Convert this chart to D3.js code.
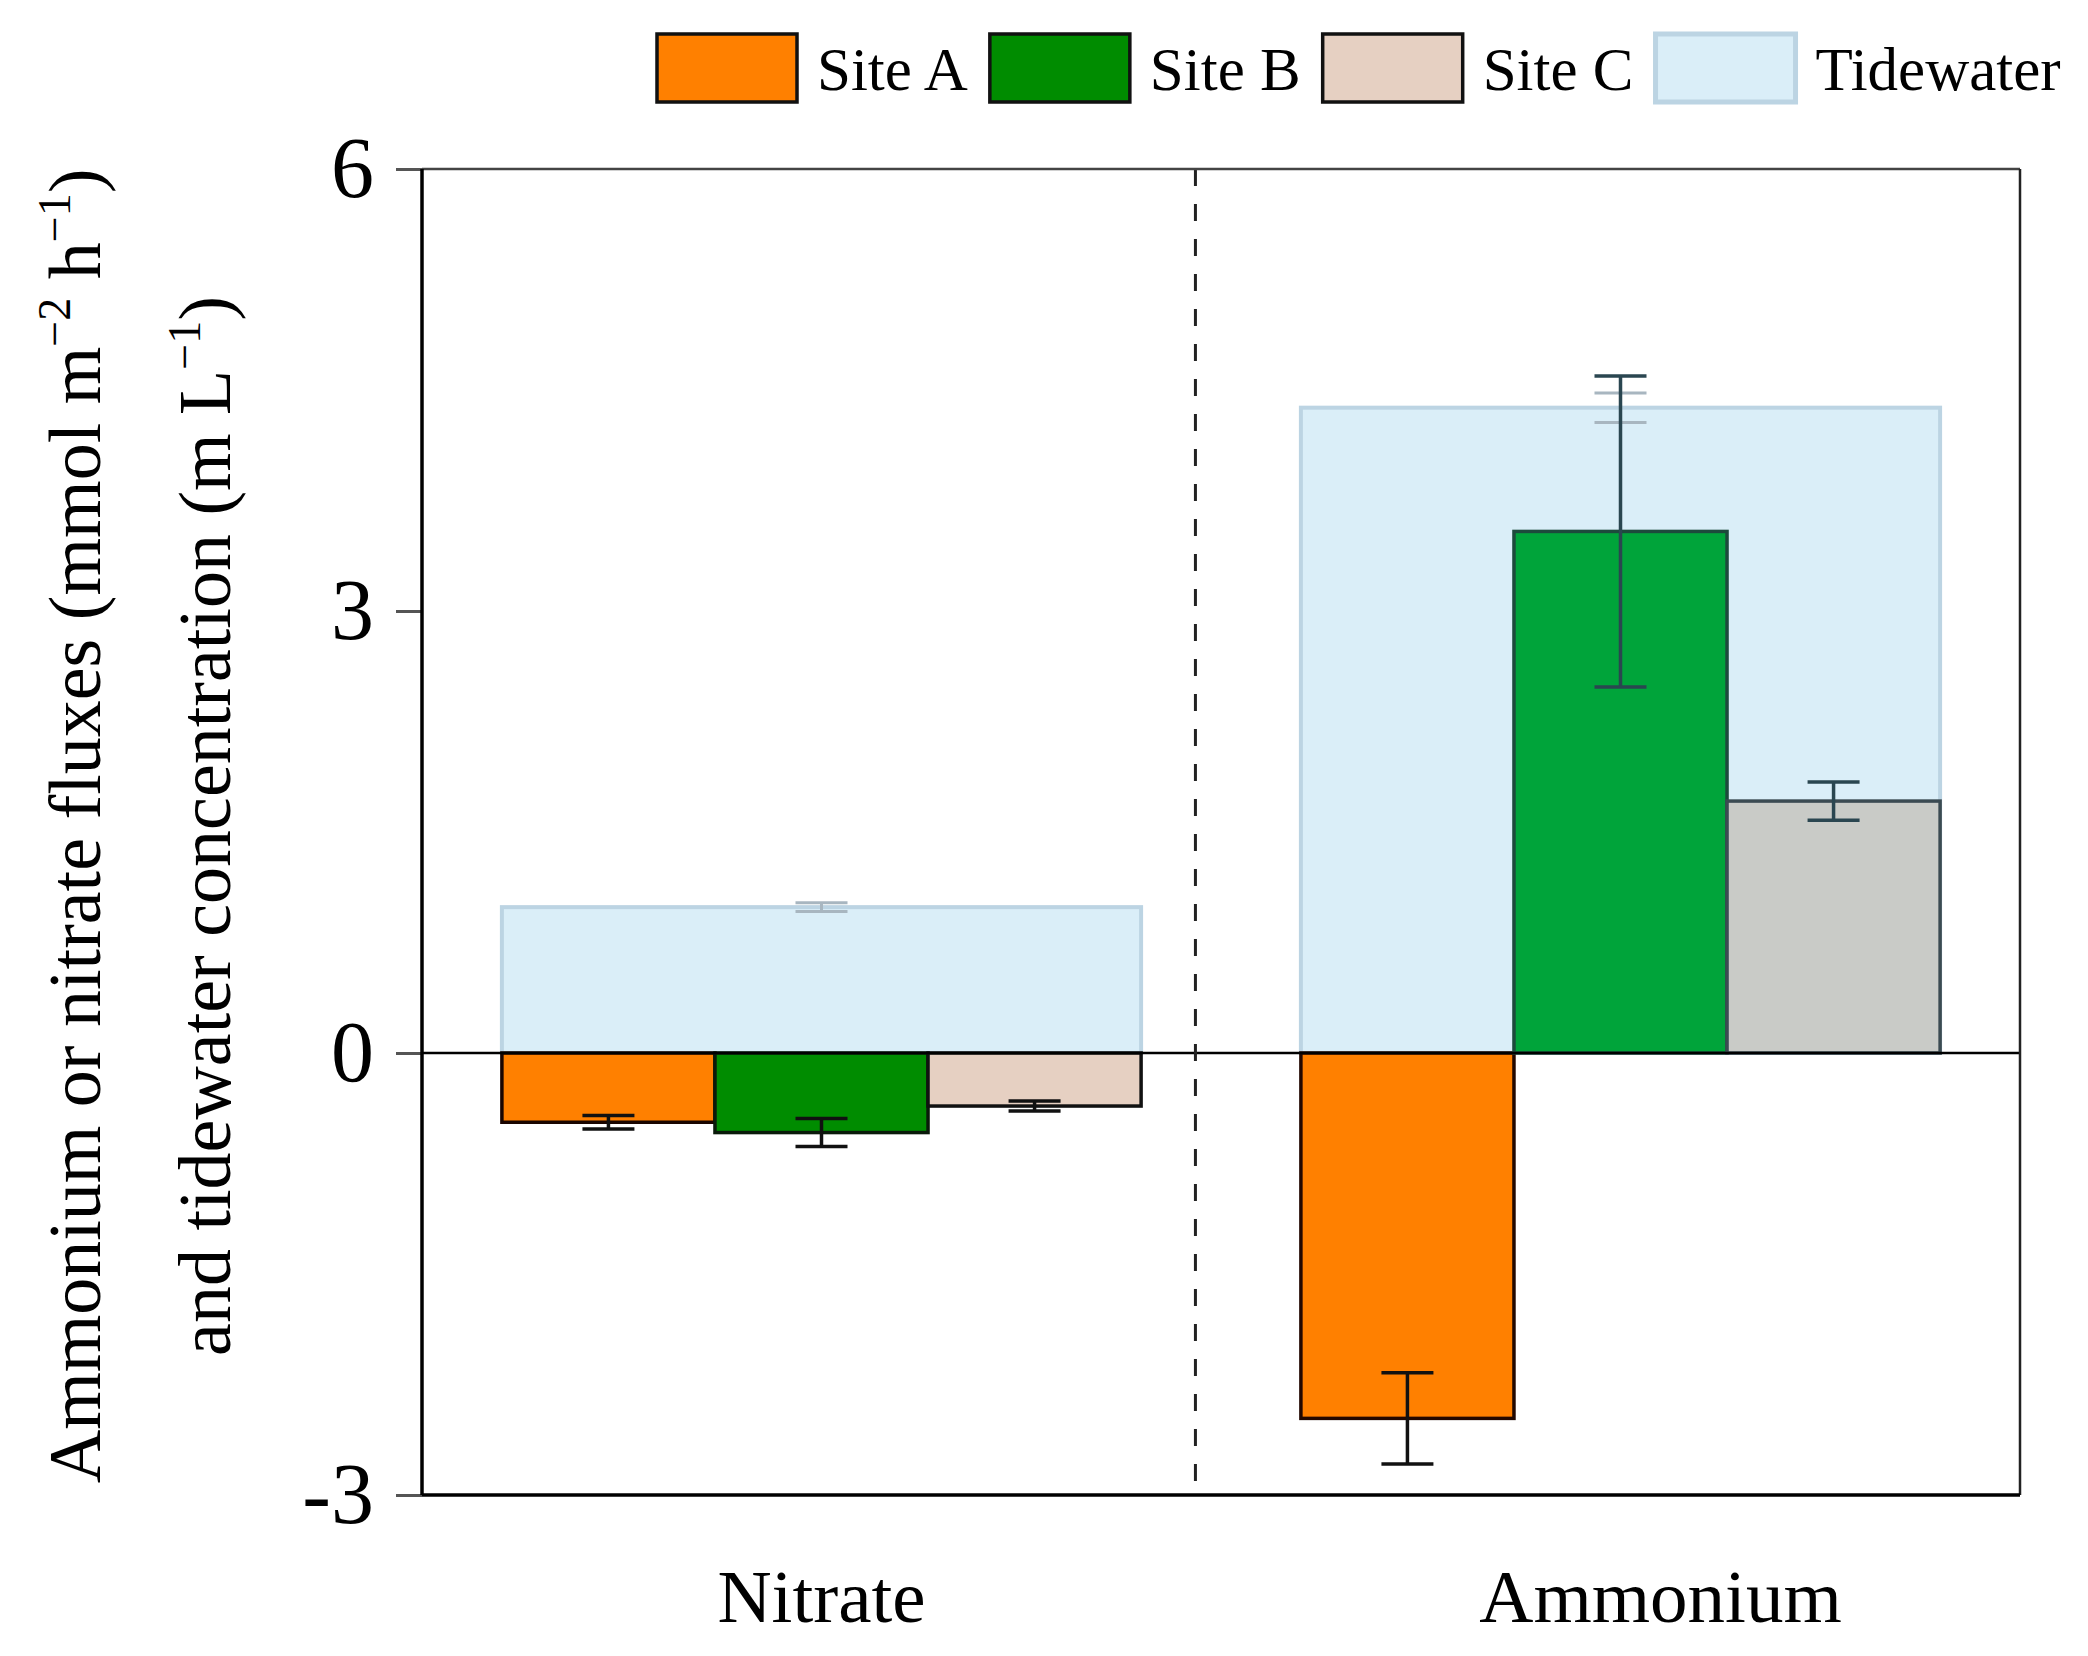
<!DOCTYPE html>
<html>
<head>
<meta charset="utf-8">
<script src="https://cdn.jsdelivr.net/npm/d3@7"></script>
<style>
  body { margin: 0; background: #fff; }
  svg { display: block; font-family: "Liberation Serif", "Times New Roman", serif; }
</style>
</head>
<body>
<div id="chart"></div>
<script>
// data
var groups = ["Nitrate", "Ammonium"];
var sites = ["Site A", "Site B", "Site C"];
var siteA = [-0.47, -2.48];
var siteAErr = [0.045, 0.31];
var siteB = [-0.54, 3.54];
var siteBErr = [0.095, 1.055];
var siteC = [-0.36, 1.71];
var siteCErr = [0.034, 0.13];
var tidewater = [0.99, 4.38];
var tidewaterErr = [0.03, 0.10];
var yTicks = [-3, 0, 3, 6];

var width = 2088;
var height = 1656;
var plotLeft = 422, plotRight = 2020, plotTop = 169, plotBottom = 1495;

var svg = d3.select("#chart")
    .append("svg")
    .attr("width", width)
    .attr("height", height);

var y = d3.scaleLinear().domain([-3, 6]).range([plotBottom, plotTop]);
var x = d3.scaleBand().domain(groups).range([plotLeft, plotRight])
    .paddingInner(0.2).paddingOuter(0.1);
var xSite = d3.scaleBand().domain(sites).range([0, x.bandwidth()]);

// legend colours, and the tinted look the ammonium bars have inside the tidewater box
var fill = {
    "Nitrate": { "Site A": "#ff8000", "Site B": "#008c00", "Site C": "#e6d0c2" },
    "Ammonium": { "Site A": "#ff8000", "Site B": "#00a43a", "Site C": "#c9cbc7" }
};
var edge = {
    "Nitrate": { "Site A": "#1a0500", "Site B": "#0a1a0a", "Site C": "#111" },
    "Ammonium": { "Site A": "#220800", "Site B": "#1d4a3c", "Site C": "#3b4b52" }
};
var whisker = {
    "Nitrate": { "Site A": "#111", "Site B": "#111", "Site C": "#111" },
    "Ammonium": { "Site A": "#111", "Site B": "#2a4650", "Site C": "#2a4650" }
};
var legendColor = ["#ff8000", "#008c00", "#e6d0c2", "#daeef8"];

var rows = [];
groups.forEach(function (g, i) {
    rows.push({ group: g, site: "Site A", value: siteA[i], err: siteAErr[i] });
    rows.push({ group: g, site: "Site B", value: siteB[i], err: siteBErr[i] });
    rows.push({ group: g, site: "Site C", value: siteC[i], err: siteCErr[i] });
});
var tide = groups.map(function (g, i) {
    return { group: g, value: tidewater[i], err: tidewaterErr[i] };
});

// tidewater boxes sit behind the site bars
svg.selectAll(".tide")
    .data(tide)
    .enter().append("rect")
    .attr("class", "tide")
    .attr("x", function (d) { return x(d.group); })
    .attr("width", x.bandwidth())
    .attr("y", function (d) { return y(d.value); })
    .attr("height", function (d) { return y(0) - y(d.value); })
    .attr("fill", "#daeef8")
    .attr("stroke", "#bcd4e3")
    .attr("stroke-width", 4);

function errorBars(sel, cx, color, w) {
    var g = sel.append("g").attr("stroke", color).attr("stroke-width", w);
    g.append("line")
        .attr("x1", cx).attr("x2", cx)
        .attr("y1", function (d) { return y(d.value + d.err); })
        .attr("y2", function (d) { return y(d.value - d.err); });
    g.append("line")
        .attr("x1", function (d) { return cx(d) - 26; })
        .attr("x2", function (d) { return cx(d) + 26; })
        .attr("y1", function (d) { return y(d.value + d.err); })
        .attr("y2", function (d) { return y(d.value + d.err); });
    g.append("line")
        .attr("x1", function (d) { return cx(d) - 26; })
        .attr("x2", function (d) { return cx(d) + 26; })
        .attr("y1", function (d) { return y(d.value - d.err); })
        .attr("y2", function (d) { return y(d.value - d.err); });
}

var tideErr = svg.selectAll(".tide-err")
    .data(tide)
    .enter().append("g")
    .attr("class", "tide-err");
errorBars(tideErr, function (d) { return x(d.group) + x.bandwidth() / 2; }, "#a8b6c0", 3);

svg.selectAll(".bar")
    .data(rows)
    .enter().append("rect")
    .attr("class", "bar")
    .attr("x", function (d) { return x(d.group) + xSite(d.site); })
    .attr("width", xSite.bandwidth())
    .attr("y", function (d) { return y(Math.max(0, d.value)); })
    .attr("height", function (d) { return Math.abs(y(d.value) - y(0)); })
    .attr("fill", function (d) { return fill[d.group][d.site]; })
    .attr("stroke", function (d) { return edge[d.group][d.site]; })
    .attr("stroke-width", 3.5);

svg.selectAll(".site-err")
    .data(rows)
    .enter().append("g")
    .attr("class", "site-err")
    .each(function (d) {
        errorBars(d3.select(this), function (e) { return x(e.group) + xSite(e.site) + xSite.bandwidth() / 2; },
            whisker[d.group][d.site], 3.5);
    });

// zero line
svg.append("line")
    .attr("x1", plotLeft).attr("x2", plotRight)
    .attr("y1", y(0)).attr("y2", y(0))
    .attr("stroke", "#000").attr("stroke-width", 2.5);

// divider between the two groups
var divX = plotLeft + (plotRight - plotLeft) * 0.484;
svg.append("line")
    .attr("x1", divX).attr("x2", divX)
    .attr("y1", y(6)).attr("y2", y(-3) - 8)
    .attr("stroke", "#222").attr("stroke-width", 3)
    .attr("stroke-dasharray", "17,18");

// frame
svg.append("line").attr("x1", plotLeft).attr("x2", plotRight).attr("y1", y(6)).attr("y2", y(6))
    .attr("stroke", "#444").attr("stroke-width", 2.5);
svg.append("line").attr("x1", plotRight).attr("x2", plotRight).attr("y1", y(6)).attr("y2", y(-3))
    .attr("stroke", "#222").attr("stroke-width", 2.5);
svg.append("line").attr("x1", plotLeft).attr("x2", plotRight).attr("y1", y(-3)).attr("y2", y(-3))
    .attr("stroke", "#000").attr("stroke-width", 3.5);

// y axis
var yAxis = svg.append("g")
    .attr("transform", "translate(" + plotLeft + ",0)")
    .call(d3.axisLeft(y).tickValues(yTicks).tickSize(26).tickPadding(22));
yAxis.select(".domain").remove();
yAxis.selectAll(".tick line").attr("stroke", "#555").attr("stroke-width", 3);
yAxis.selectAll(".tick text")
    .attr("font-family", "Liberation Serif")
    .attr("font-size", 86)
    .attr("fill", "#000")
    .text(function (d) { return d < 0 ? "-" + Math.abs(d) : d; });
svg.append("line").attr("x1", plotLeft).attr("x2", plotLeft).attr("y1", y(6)).attr("y2", y(-3))
    .attr("stroke", "#000").attr("stroke-width", 3.5);

// x labels
var labelShift = [0, 40];
svg.selectAll(".xlab")
    .data(groups)
    .enter().append("text")
    .attr("class", "xlab")
    .attr("x", function (d, i) { return x(d) + x.bandwidth() / 2 + labelShift[i]; })
    .attr("y", 1622)
    .attr("text-anchor", "middle")
    .attr("font-size", 75)
    .text(function (d) { return d; });

// y title, two lines with superscripts
var title = svg.append("g").attr("transform", "translate(100,826) rotate(-90)");
var t1 = title.append("text").attr("text-anchor", "middle").attr("font-size", 74);
t1.append("tspan").text("Ammonium or nitrate fluxes (mmol m");
t1.append("tspan").attr("dy", -30).attr("font-size", 46).text("\u22122");
t1.append("tspan").attr("dy", 30).text(" h");
t1.append("tspan").attr("dy", -30).attr("font-size", 46).text("\u22121");
t1.append("tspan").attr("dy", 30).text(")");
var t2 = title.append("text").attr("text-anchor", "middle").attr("font-size", 74).attr("y", 130);
t2.append("tspan").text("and tidewater concentration (m L");
t2.append("tspan").attr("dy", -30).attr("font-size", 46).text("\u22121");
t2.append("tspan").attr("dy", 30).text(")");

// legend
var legendNames = sites.concat(["Tidewater"]);
var cursor = 657;
legendNames.forEach(function (name, i) {
    var isTide = name === "Tidewater";
    svg.append("rect")
        .attr("x", cursor).attr("y", 34)
        .attr("width", 140).attr("height", 68)
        .attr("fill", legendColor[i])
        .attr("stroke", isTide ? "#bcd4e3" : "#111")
        .attr("stroke-width", isTide ? 5 : 3.5);
    var txt = svg.append("text")
        .attr("x", cursor + 160).attr("y", 90)
        .attr("font-size", 61)
        .text(name);
    cursor += 160 + txt.node().getComputedTextLength() + 22;
});
</script>
</body>
</html>
